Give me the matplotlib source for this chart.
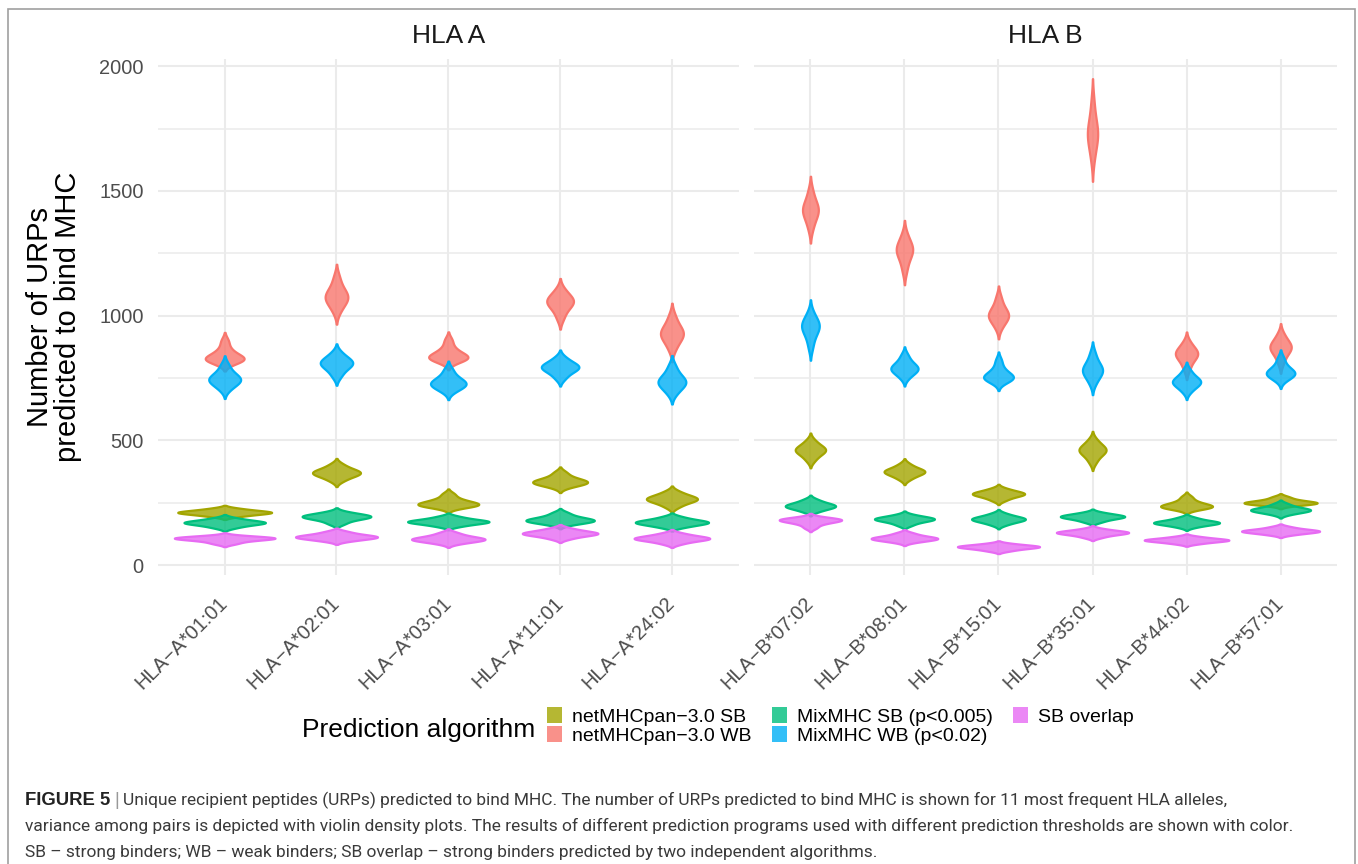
import numpy as np
import matplotlib
matplotlib.use("Agg")
import matplotlib.pyplot as plt
from matplotlib import mlab, font_manager
from matplotlib.colors import to_rgba
from matplotlib.patches import Patch, Rectangle

W, H = 1358, 864

plt.rcParams.update({
    'font.family': ['Liberation Sans', 'DejaVu Sans'],
    'axes.unicode_minus': True,
})

ALLELES_A = ["HLA\u2212A*01:01", "HLA\u2212A*02:01", "HLA\u2212A*03:01",
             "HLA\u2212A*11:01", "HLA\u2212A*24:02"]
ALLELES_B = ["HLA\u2212B*07:02", "HLA\u2212B*08:01", "HLA\u2212B*15:01",
             "HLA\u2212B*35:01", "HLA\u2212B*44:02", "HLA\u2212B*57:01"]
ALGORITHMS = ["netMHCpan\u22123.0 SB", "netMHCpan\u22123.0 WB",
              "MixMHC SB (p<0.005)", "MixMHC WB (p<0.02)", "SB overlap"]
COLORS = ["#A3A500", "#F8766D", "#00BF7D", "#00B0F6", "#E76BF3"]

# URPs per donor/recipient pair, one list per allele (estimated from the violins)
NET_SB_A = [[195, 202, 206, 209, 211, 213, 216, 220, 227],
            [339, 353, 361, 366, 370, 374, 380, 388, 403],
            [231, 237, 241, 243, 245, 250, 257, 266, 284],
            [313, 323, 328, 331, 334, 338, 345, 354, 371],
            [234, 248, 256, 261, 265, 268, 274, 281, 294]]
NET_WB_A = [[813, 820, 824, 827, 829, 837, 850, 867, 898],
            [1018, 1044, 1059, 1069, 1076, 1085, 1099, 1119, 1154],
            [817, 825, 830, 833, 835, 843, 855, 871, 901],
            [990, 1020, 1036, 1048, 1056, 1062, 1071, 1083, 1105],
            [866, 894, 910, 921, 929, 937, 950, 968, 999]]
MIX_SB_A = [[150, 159, 164, 168, 170, 172, 175, 180, 188],
            [166, 179, 186, 191, 194, 196, 199, 204, 212],
            [156, 164, 169, 172, 174, 176, 180, 185, 194],
            [163, 171, 175, 178, 180, 183, 189, 196, 209],
            [152, 160, 165, 169, 171, 174, 178, 183, 193]]
MIX_WB_A = [[705, 723, 733, 740, 745, 752, 762, 776, 802],
            [757, 780, 793, 803, 809, 814, 822, 832, 851],
            [697, 711, 719, 725, 729, 736, 746, 759, 784],
            [749, 769, 780, 788, 793, 798, 804, 814, 831],
            [688, 709, 721, 729, 735, 743, 754, 770, 798]]
OVERLAP_A = [[86, 95, 101, 104, 107, 108, 110, 113, 117],
             [97, 104, 108, 111, 113, 116, 119, 125, 134],
             [87, 95, 99, 102, 104, 107, 112, 118, 129],
             [106, 116, 121, 124, 127, 129, 133, 138, 147],
             [86, 96, 101, 104, 107, 109, 113, 118, 127]]

NET_SB_B = [[420, 438, 449, 456, 461, 466, 472, 482, 499],
            [345, 358, 365, 371, 374, 378, 383, 390, 404],
            [260, 271, 278, 282, 285, 288, 291, 297, 306],
            [413, 435, 447, 455, 461, 466, 473, 484, 502],
            [224, 230, 233, 235, 237, 241, 248, 257, 273],
            [239, 244, 247, 249, 250, 253, 257, 263, 273]]
NET_WB_B = [[1349, 1383, 1401, 1415, 1424, 1433, 1447, 1466, 1501],
            [1180, 1217, 1238, 1253, 1263, 1271, 1282, 1298, 1326],
            [953, 976, 988, 997, 1003, 1011, 1024, 1042, 1073],
            [1628, 1674, 1700, 1719, 1731, 1747, 1770, 1803, 1861],
            [785, 812, 828, 839, 846, 852, 860, 872, 893],
            [812, 840, 855, 866, 873, 879, 889, 902, 925]]
MIX_SB_B = [[215, 225, 230, 234, 237, 240, 245, 251, 262],
            [160, 171, 177, 181, 184, 186, 189, 193, 201],
            [162, 172, 177, 181, 184, 187, 191, 196, 206],
            [173, 182, 188, 191, 194, 196, 199, 203, 210],
            [153, 161, 165, 168, 170, 172, 176, 181, 190],
            [204, 212, 216, 219, 221, 224, 228, 234, 245]]
MIX_WB_B = [[874, 911, 931, 946, 956, 963, 973, 986, 1011],
            [752, 769, 778, 785, 789, 795, 805, 818, 841],
            [734, 744, 749, 753, 755, 763, 775, 791, 820],
            [729, 753, 766, 776, 782, 790, 802, 819, 849],
            [696, 714, 723, 730, 735, 741, 749, 760, 781],
            [742, 755, 762, 768, 771, 778, 788, 803, 829]]
OVERLAP_B = [[150, 164, 171, 176, 180, 181, 183, 186, 191],
             [92, 99, 102, 105, 107, 110, 113, 119, 128],
             [57, 64, 68, 71, 73, 75, 77, 80, 86],
             [111, 120, 124, 128, 130, 132, 134, 138, 145],
             [86, 92, 96, 98, 100, 102, 104, 108, 114],
             [122, 128, 132, 134, 136, 138, 141, 145, 153]]

PANEL_A = [NET_SB_A, NET_WB_A, MIX_SB_A, MIX_WB_A, OVERLAP_A]
PANEL_B = [NET_SB_B, NET_WB_B, MIX_SB_B, MIX_WB_B, OVERLAP_B]

CAPTION = [
    "Unique recipient peptides (URPs) predicted to bind MHC. The number of URPs predicted to bind MHC is shown for 11 most frequent HLA alleles,",
    "variance among pairs is depicted with violin density plots. The results of different prediction programs used with different prediction thresholds are shown with color.",
    "SB \u2013 strong binders; WB \u2013 weak binders; SB overlap \u2013 strong binders predicted by two independent algorithms.",
]


def kde_stats(values, cut=2.0):
    x = np.asarray(values, dtype=float)
    kde = mlab.GaussianKDE(x, 'scott')
    bw = x.std(ddof=1) * len(x) ** -0.2
    coords = np.linspace(x.min() - cut * bw, x.max() + cut * bw, 300)
    vals = kde.evaluate(coords)
    return dict(coords=coords, vals=vals, mean=x.mean(), median=np.median(x),
                min=x.min(), max=x.max())


def draw_panel(ax, series, labels, title):
    n = len(labels)
    stats = [[kde_stats(v) for v in s] for s in series]
    # ggplot scale="area": width proportional to density, widest = 0.9
    peak = max(st['vals'].max() for row in stats for st in row)
    pos = np.arange(1, n + 1)
    for row, col in zip(stats, COLORS):
        widths = [0.9 * st['vals'].max() / peak for st in row]
        parts = ax.violin(row, positions=pos, widths=widths, showmeans=False,
                          showextrema=False, showmedians=False)
        for body in parts['bodies']:
            body.set_alpha(None)
            body.set_facecolor(to_rgba(col, 0.8))
            body.set_edgecolor(col)
            body.set_linewidth(1.6)
            body.set_zorder(2)

    ax.set_xlim(0.4, n + 0.6)
    ax.set_ylim(-40, 2028)
    ax.set_xticks(pos)
    ax.set_xticklabels(labels, rotation=45, ha='right', va='center',
                       rotation_mode='anchor', fontsize=14.4, color='#4D4D4D')
    ax.set_yticks([0, 500, 1000, 1500, 2000])
    ax.set_yticks([250, 750, 1250, 1750], minor=True)
    ax.tick_params(axis='x', length=0, pad=18)
    ax.tick_params(axis='y', which='both', length=0, pad=10, labelsize=14.4,
                   labelcolor='#4D4D4D')
    ax.grid(True, which='major', color='#EBEBEB', linewidth=1.5)
    ax.grid(True, which='minor', axis='y', color='#EBEBEB', linewidth=1.1)
    ax.set_axisbelow(True)
    for sp in ax.spines.values():
        sp.set_visible(False)
    ax.text(0.5, 1 + 23 / 515.7, title, transform=ax.transAxes, ha='center',
            va='center', fontsize=19, color='#1A1A1A')


fig = plt.figure(figsize=(W / 100, H / 100), dpi=100)
ax_a = fig.add_axes([157.6 / W, 1 - 575 / H, (739 - 157.6) / W, (575 - 59.3) / H])
ax_b = fig.add_axes([754 / W, 1 - 575 / H, (1337 - 754) / W, (575 - 59.3) / H])

draw_panel(ax_a, PANEL_A, ALLELES_A, "HLA A")
draw_panel(ax_b, PANEL_B, ALLELES_B, "HLA B")
ax_b.tick_params(axis='y', which='both', labelleft=False)

fig.text(54 / W, 1 - 317 / H, "Number of URPs\npredicted to bind MHC", rotation=90,
         ha='center', va='center', multialignment='center', fontsize=21,
         linespacing=1.0, color='black')

# legend
handles = [Patch(facecolor=to_rgba(c, 0.8), edgecolor='none') for c in COLORS]
fig.legend(handles, ALGORITHMS, ncol=3, loc='center left',
           bbox_to_anchor=(547 / W, 1 - 726 / H), frameon=False, fontsize=14,
           handlelength=0.78, handleheight=0.85, handletextpad=0.5,
           columnspacing=1.05, labelspacing=0.02, borderpad=0, borderaxespad=0)
fig.text(302 / W, 1 - 730 / H, "Prediction algorithm", ha='left', va='center',
         fontsize=19, color='black')

# caption
names = {f.name for f in font_manager.fontManager.ttflist}
cap_family = next((f for f in ['Liberation Sans Narrow', 'Roboto', 'Liberation Sans']
                   if f in names), 'DejaVu Sans')
renderer = fig.canvas.get_renderer()

fig.text(25 / W, 1 - 805 / H, "FIGURE 5", fontsize=13.3, fontweight='bold',
         color='#222222', va='baseline', ha='left')
fig.text(114 / W, 1 - 805 / H, "|", fontsize=13.3, color='#999999',
         va='baseline', ha='left')
t1 = fig.text(123 / W, 1 - 805 / H, CAPTION[0], fontsize=12, family=cap_family,
              color='#3A3A3A', va='baseline', ha='left')
t2 = fig.text(25 / W, 1 - 831 / H, CAPTION[1], fontsize=12, family=cap_family,
              color='#3A3A3A', va='baseline', ha='left')
t3 = fig.text(25 / W, 1 - 857 / H, CAPTION[2], fontsize=12, family=cap_family,
              color='#3A3A3A', va='baseline', ha='left')
w2 = t2.get_window_extent(renderer).width
fs = 12 * 1265 / w2
for t in (t1, t2, t3):
    t.set_fontsize(fs)

# figure frame, open at the bottom
fig.patches.append(Rectangle((8.3 / W, -0.05), (1355 - 8.3) / W, 1 - 9 / H + 0.05,
                             transform=fig.transFigure, fill=False,
                             edgecolor='#A0A0A0', linewidth=1.2))

fig.savefig("out.png", dpi=100)
